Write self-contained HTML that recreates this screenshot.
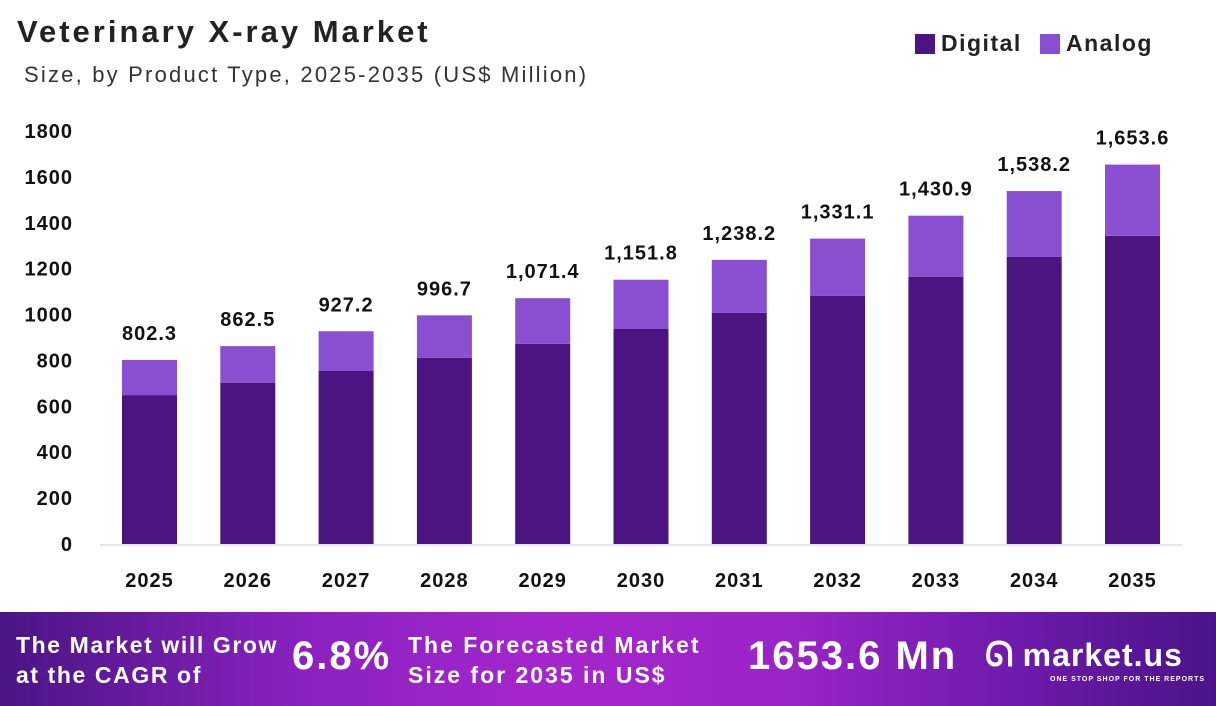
<!DOCTYPE html>
<html><head><meta charset="utf-8"><style>
body{margin:0;width:1216px;height:706px;overflow:hidden;background:#fff;font-family:"Liberation Sans",sans-serif;position:relative}
.t{position:absolute;white-space:nowrap}
#banner{position:absolute;left:0;top:612px;width:1216px;height:94px;background:linear-gradient(90deg,#4a1585 0%,#8a22c0 25%,#a526cc 45%,#9a24c8 65%,#6a1aa8 85%,#4a1488 100%)}
#banner .t{color:#fff;font-weight:bold}
</style></head><body>
<div class="t" style="left:17px;top:14px;font-size:31px;font-weight:bold;color:#222;letter-spacing:3px">Veterinary X-ray Market</div>
<div class="t" style="left:24px;top:62px;font-size:22px;color:#333;letter-spacing:2.2px">Size, by Product Type, 2025-2035 (US$ Million)</div>
<div class="t" style="left:915px;top:30px;font-size:23px;font-weight:bold;color:#222;letter-spacing:1.5px"><span style="display:inline-block;width:20px;height:20px;background:#4b1480;vertical-align:-3px;margin-right:6px"></span>Digital</div>
<div class="t" style="left:1040px;top:30px;font-size:23px;font-weight:bold;color:#222;letter-spacing:1.5px"><span style="display:inline-block;width:20px;height:20px;background:#8a4fd0;vertical-align:-3px;margin-right:6px"></span>Analog</div>
<svg id="chart" width="1216" height="612" style="position:absolute;left:0;top:0"></svg>
<div id="banner">
<div class="t" style="left:16px;top:18px;font-size:23px;line-height:30px;letter-spacing:1.6px">The Market will Grow<br>at the CAGR of</div>
<div class="t" style="left:292px;top:22px;font-size:40px;letter-spacing:2px">6.8%</div>
<div class="t" style="left:408px;top:18px;font-size:23px;line-height:30px;letter-spacing:2px">The Forecasted Market<br>Size for 2035 in US$</div>
<div class="t" style="left:748px;top:22px;font-size:40px;letter-spacing:2px">1653.6 Mn</div>
<div class="t" style="left:985px;top:24px;font-size:34px">ᘏ <span style="font-size:32px;letter-spacing:1px">market.us</span></div>
<div class="t" style="left:1050px;top:64px;font-size:7px;letter-spacing:1px">ONE STOP SHOP FOR THE REPORTS</div>
</div>
<script>
const years=["2025","2026","2027","2028","2029","2030","2031","2032","2033","2034","2035"];
const digital=[649,702,754,811,872,937,1007,1081,1164,1251,1343];
const analog=[153.3,160.5,173.2,185.7,199.4,214.8,231.2,250.1,266.9,287.2,310.6];
const totals=["802.3","862.5","927.2","996.7","1,071.4","1,151.8","1,238.2","1,331.1","1,430.9","1,538.2","1,653.6"];
const yTicks=[0,200,400,600,800,1000,1200,1400,1600,1800];
const svg=document.getElementById('chart');const NS="http://www.w3.org/2000/svg";
const y0=544,yTop=131,yMax=1800;
const y=v=>y0-(v/yMax)*(y0-yTop);
const x=i=>149.5+i*98.3;
const bw=55;
function mk(t,a){const e=document.createElementNS(NS,t);for(const k in a)e.setAttribute(k,a[k]);svg.appendChild(e);return e;}
yTicks.forEach(v=>{const t=mk('text',{x:73,y:y(v)+7,'text-anchor':'end','font-size':20,'font-weight':'bold',fill:'#111','letter-spacing':1,'font-family':'Liberation Sans, sans-serif'});t.textContent=v;

});
const ax=mk('line',{x1:100,x2:1182,y1:y0+1,y2:y0+1,stroke:'#ccc','stroke-width':1});


years.forEach((yr,i)=>{
const d=mk('rect',{x:x(i)-bw/2,y:y(digital[i]),width:bw,height:y0-y(digital[i]),fill:'#4b1480'});


const a=mk('rect',{x:x(i)-bw/2,y:y(digital[i]+analog[i]),width:bw,height:y(digital[i])-y(digital[i]+analog[i]),fill:'#8a4fd0'});


const l=mk('text',{x:x(i),y:y(digital[i]+analog[i])-20,'text-anchor':'middle','font-size':20,'font-weight':'bold',fill:'#111','letter-spacing':1,'font-family':'Liberation Sans, sans-serif'});l.textContent=totals[i];


const xl=mk('text',{x:x(i),y:587,'text-anchor':'middle','font-size':20,'font-weight':'bold',fill:'#111','letter-spacing':1,'font-family':'Liberation Sans, sans-serif'});xl.textContent=yr;


});
</script>
</body></html>
